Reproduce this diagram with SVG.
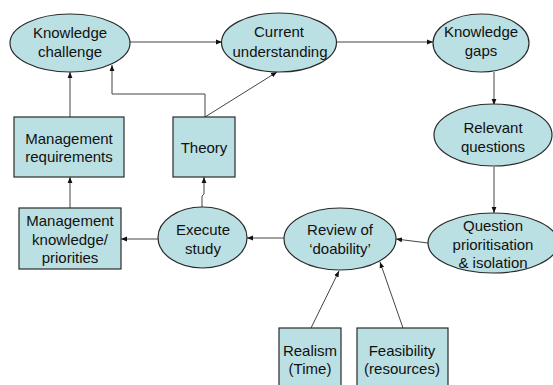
<svg xmlns="http://www.w3.org/2000/svg" width="553" height="385" viewBox="0 0 553 385">
<style>
.n{fill:#BBE0E3;stroke:#2a2a2a;stroke-width:1.2}
.t{font-family:"Liberation Sans",Arial,sans-serif;font-size:15px;fill:#111;text-anchor:middle}
.c{fill:none;stroke:#444;stroke-width:1}
</style>
<defs>
<marker id="a" viewBox="0 0 10 10" refX="10" refY="5" markerWidth="6" markerHeight="6" orient="auto" markerUnits="userSpaceOnUse">
<path d="M0,1 L10,5 L0,9 z" fill="#111"/>
</marker>
</defs>
<rect width="553" height="385" fill="#fff"/>
<g id="connectors">
<line class="c" x1="130" y1="42" x2="222" y2="42" marker-end="url(#a)"/>
<line class="c" x1="337" y1="42" x2="433" y2="42" marker-end="url(#a)"/>
<line class="c" x1="494" y1="72" x2="494" y2="105" marker-end="url(#a)"/>
<line class="c" x1="494" y1="167" x2="494" y2="213" marker-end="url(#a)"/>
<line class="c" x1="428" y1="243" x2="396" y2="239" marker-end="url(#a)"/>
<line class="c" x1="284" y1="238" x2="247" y2="238" marker-end="url(#a)"/>
<line class="c" x1="158" y1="239" x2="121" y2="239" marker-end="url(#a)"/>
<line class="c" x1="70" y1="208" x2="70" y2="177" marker-end="url(#a)"/>
<line class="c" x1="70" y1="117" x2="70" y2="72" marker-end="url(#a)"/>
<polyline class="c" points="202,207 202,196 204,194 204,177" marker-end="url(#a)"/>
<polyline class="c" points="205,117 205,94 112,94 112,65" marker-end="url(#a)"/>
<line class="c" x1="205" y1="117" x2="277" y2="72" marker-end="url(#a)"/>
<line class="c" x1="311" y1="328" x2="339" y2="271" marker-end="url(#a)"/>
<line class="c" x1="403" y1="328" x2="380" y2="262" marker-end="url(#a)"/>
</g>
<g id="knowledge-challenge">
<ellipse class="n" cx="70" cy="43" rx="60" ry="29"/>
<text class="t" x="70" y="38">Knowledge</text>
<text class="t" x="70" y="57">challenge</text>
</g>
<g id="current-understanding">
<ellipse class="n" cx="279" cy="42.5" rx="57.5" ry="29.5"/>
<text class="t" x="279" y="37">Current</text>
<text class="t" x="280" y="57">understanding</text>
</g>
<g id="knowledge-gaps">
<ellipse class="n" cx="481" cy="43" rx="48" ry="29"/>
<text class="t" x="481" y="37">Knowledge</text>
<text class="t" x="481" y="56">gaps</text>
</g>
<g id="relevant-questions">
<ellipse class="n" cx="493" cy="135" rx="59" ry="31"/>
<text class="t" x="493" y="133">Relevant</text>
<text class="t" x="493" y="152">questions</text>
</g>
<g id="question-prioritisation">
<ellipse class="n" cx="493" cy="243" rx="65" ry="30"/>
<text class="t" x="493" y="231">Question</text>
<text class="t" x="493" y="250">prioritisation</text>
<text class="t" x="493" y="268">&amp; isolation</text>
</g>
<g id="review-doability">
<ellipse class="n" cx="340" cy="239" rx="56" ry="31"/>
<text class="t" x="340" y="235">Review of</text>
<text class="t" x="340" y="254">‘doability’</text>
</g>
<g id="execute-study">
<ellipse class="n" cx="202.5" cy="237.5" rx="44.5" ry="30.5"/>
<text class="t" x="203" y="235">Execute</text>
<text class="t" x="203" y="254">study</text>
</g>
<g id="theory">
<rect class="n" x="173" y="117" width="62" height="60"/>
<text class="t" x="204" y="153">Theory</text>
</g>
<g id="management-requirements">
<rect class="n" x="14" y="117" width="110" height="60"/>
<text class="t" x="69" y="144">Management</text>
<text class="t" x="69" y="162">requirements</text>
</g>
<g id="management-knowledge">
<rect class="n" x="19" y="208" width="102" height="61"/>
<text class="t" x="70" y="226">Management</text>
<text class="t" x="70" y="245">knowledge/</text>
<text class="t" x="70" y="263">priorities</text>
</g>
<g id="realism">
<rect class="n" x="279" y="328" width="62" height="62"/>
<text class="t" x="310" y="356">Realism</text>
<text class="t" x="310" y="374">(Time)</text>
</g>
<g id="feasibility">
<rect class="n" x="357" y="328" width="91" height="62"/>
<text class="t" x="402" y="356">Feasibility</text>
<text class="t" x="402" y="374">(resources)</text>
</g>
</svg>
